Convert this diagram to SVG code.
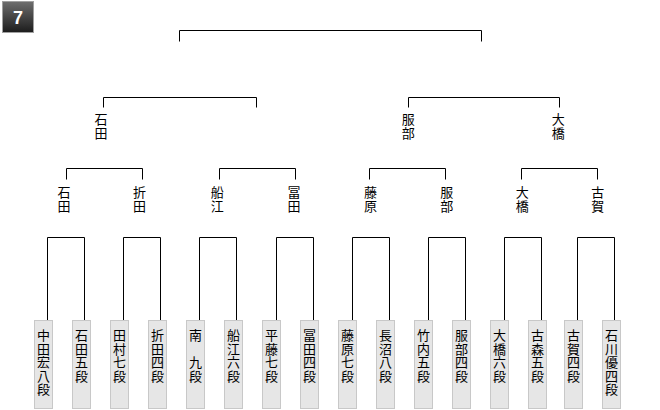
<svg xmlns="http://www.w3.org/2000/svg" width="660" height="410" viewBox="0 0 660 410">
<defs>
<linearGradient id="bg" x1="0" y1="0" x2="0" y2="1">
<stop offset="0" stop-color="#6e6e6e"/>
<stop offset="1" stop-color="#1c1c1c"/>
</linearGradient>
<style>
.ln{fill:none;stroke:#000;stroke-width:1}
.bx{fill:#e6e6e6;stroke:#c8c8c8;stroke-width:1}
.t{font-family:"Noto Sans CJK JP","Noto Sans CJK SC",sans-serif;font-size:13px;fill:#000;writing-mode:vertical-rl;text-anchor:start}
.l{letter-spacing:0.5px}
.m{letter-spacing:1px}
</style>
</defs>
<rect width="660" height="410" fill="#fff"/>
<g id="badge">
<rect x="2.5" y="1.5" width="31" height="31" fill="url(#bg)" stroke="#a0a0a0"/>
<text x="18" y="24" font-family="Liberation Sans, Arial, sans-serif" font-size="18" font-weight="bold" fill="#fff" text-anchor="middle">7</text>
</g>
<g id="connectors">
<path class="ln" d="M179.5,41.5V30.5H481.5V41.5"/>
<path class="ln" d="M103.5,107.5V97.5H256.5V107.5"/>
<path class="ln" d="M408.5,107.5V97.5H559.5V107.5"/>
<path class="ln" d="M66.5,179.5V168.5H142.5V179.5"/>
<path class="ln" d="M219.5,179.5V168.5H295.5V179.5"/>
<path class="ln" d="M369.5,179.5V168.5H445.5V179.5"/>
<path class="ln" d="M521.5,179.5V168.5H597.5V179.5"/>
<path class="ln" d="M47.5,320V237.5H84.5V320"/>
<path class="ln" d="M123.5,320V237.5H160.5V320"/>
<path class="ln" d="M199.5,320V237.5H236.5V320"/>
<path class="ln" d="M276.5,320V237.5H313.5V320"/>
<path class="ln" d="M352.5,320V237.5H389.5V320"/>
<path class="ln" d="M428.5,320V237.5H465.5V320"/>
<path class="ln" d="M504.5,320V237.5H541.5V320"/>
<path class="ln" d="M577.5,320V237.5H614.5V320"/>
</g>
<g id="r2-ishida"><text class="t m" x="101" y="112.7">石田</text></g>
<g id="r2-hattori"><text class="t m" x="408.3" y="112.7">服部</text></g>
<g id="r2-ohashi"><text class="t m" x="558.3" y="112.7">大橋</text></g>
<g id="r3-ishida"><text class="t m" x="64" y="186">石田</text></g>
<g id="r3-orita"><text class="t m" x="139.5" y="186">折田</text></g>
<g id="r3-funae"><text class="t m" x="217.3" y="186">船江</text></g>
<g id="r3-tomita"><text class="t m" x="294" y="186">冨田</text></g>
<g id="r3-fujiwara"><text class="t m" x="370.5" y="186">藤原</text></g>
<g id="r3-hattori"><text class="t m" x="446.7" y="186">服部</text></g>
<g id="r3-ohashi"><text class="t m" x="522.3" y="186">大橋</text></g>
<g id="r3-koga"><text class="t m" x="597.7" y="186">古賀</text></g>
<g id="p1"><rect class="bx" x="34.5" y="320.5" width="18" height="88"/><text class="t l" x="43.5" y="328.7">中田宏八段</text></g>
<g id="p2"><rect class="bx" x="72.5" y="320.5" width="18" height="88"/><text class="t l" x="81.5" y="328.7">石田五段</text></g>
<g id="p3"><rect class="bx" x="110.5" y="320.5" width="18" height="88"/><text class="t l" x="119.5" y="328.7">田村七段</text></g>
<g id="p4"><rect class="bx" x="148.5" y="320.5" width="18" height="88"/><text class="t l" x="157.5" y="328.7">折田四段</text></g>
<g id="p5"><rect class="bx" x="186.5" y="320.5" width="18" height="88"/><text class="t l" x="195.5" y="328.7">南　九段</text></g>
<g id="p6"><rect class="bx" x="224.5" y="320.5" width="18" height="88"/><text class="t l" x="233.5" y="328.7">船江六段</text></g>
<g id="p7"><rect class="bx" x="262.5" y="320.5" width="18" height="88"/><text class="t l" x="271.5" y="328.7">平藤七段</text></g>
<g id="p8"><rect class="bx" x="300.5" y="320.5" width="18" height="88"/><text class="t l" x="309.5" y="328.7">冨田四段</text></g>
<g id="p9"><rect class="bx" x="338.5" y="320.5" width="18" height="88"/><text class="t l" x="347.5" y="328.7">藤原七段</text></g>
<g id="p10"><rect class="bx" x="376.5" y="320.5" width="18" height="88"/><text class="t l" x="385.5" y="328.7">長沼八段</text></g>
<g id="p11"><rect class="bx" x="414.5" y="320.5" width="18" height="88"/><text class="t l" x="423.5" y="328.7">竹内五段</text></g>
<g id="p12"><rect class="bx" x="452.5" y="320.5" width="18" height="88"/><text class="t l" x="461.5" y="328.7">服部四段</text></g>
<g id="p13"><rect class="bx" x="490.5" y="320.5" width="18" height="88"/><text class="t l" x="499.5" y="328.7">大橋六段</text></g>
<g id="p14"><rect class="bx" x="528.5" y="320.5" width="18" height="88"/><text class="t l" x="537.5" y="328.7">古森五段</text></g>
<g id="p15"><rect class="bx" x="564.5" y="320.5" width="18" height="88"/><text class="t l" x="573.5" y="328.7">古賀四段</text></g>
<g id="p16"><rect class="bx" x="602.5" y="320.5" width="18" height="88"/><text class="t l" x="611.5" y="328.7">石川優四段</text></g>
</svg>
